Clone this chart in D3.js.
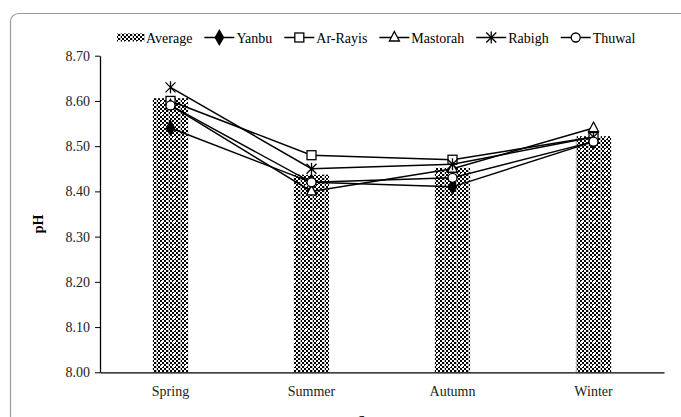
<!DOCTYPE html>
<html>
<head>
<meta charset="utf-8">
<script src="https://cdn.jsdelivr.net/npm/d3@7"></script>
<style>
  html, body { margin: 0; padding: 0; background: #fff; }
  svg { display: block; font-family: "Liberation Serif", "Times New Roman", serif; }
</style>
</head>
<body>
<svg id="chart" width="681" height="417"></svg>
<script>
// Seasonal pH at the sampling sites
const seasons = ["Spring", "Summer", "Autumn", "Winter"];
const averagePH = [8.606, 8.437, 8.452, 8.522];
const yanbu    = [8.54, 8.42, 8.41, 8.51];
const arRayis  = [8.60, 8.48, 8.47, 8.52];
const mastorah = [8.59, 8.40, 8.45, 8.54];
const rabigh   = [8.63, 8.45, 8.46, 8.52];
const thuwal   = [8.59, 8.42, 8.43, 8.51];
const yTicks = [8.00, 8.10, 8.20, 8.30, 8.40, 8.50, 8.60, 8.70];

const series = [
  { name: "Yanbu",    values: yanbu,    marker: "diamond" },
  { name: "Ar-Rayis", values: arRayis,  marker: "square" },
  { name: "Mastorah", values: mastorah, marker: "triangle" },
  { name: "Rabigh",   values: rabigh,   marker: "asterisk" },
  { name: "Thuwal",   values: thuwal,   marker: "circle" }
];

const svg = d3.select("#chart");
const plot = { left: 100, right: 664, top: 55.7, bottom: 372.3 };

// Checkered fill used for the average bars
const defs = svg.append("defs");
const pat = defs.append("pattern")
  .attr("id", "checker").attr("patternUnits", "userSpaceOnUse")
  .attr("width", 12).attr("height", 12);
pat.append("rect").attr("width", 12).attr("height", 12).attr("fill", "#fff");
for (let i = 0; i < 6; i++) {
  for (let j = 0; j < 6; j++) {
    if ((i + j) % 2 === 0) {
      pat.append("rect").attr("x", i * 2).attr("y", j * 2)
        .attr("width", 2).attr("height", 2).attr("fill", "#000");
    }
  }
}
pat.append("rect").attr("x", 5).attr("y", 5).attr("width", 2).attr("height", 2).attr("fill", "#fff");
pat.append("rect").attr("x", 0).attr("y", 0).attr("width", 1).attr("height", 12).attr("fill", "#bbb");

// Outer frame
svg.append("rect")
  .attr("x", 10.5).attr("y", 13.5)
  .attr("width", 700).attr("height", 430)
  .attr("rx", 8).attr("ry", 8)
  .attr("fill", "none").attr("stroke", "#9a9a9a").attr("stroke-width", 1.2);

const x = d3.scaleBand().domain(seasons).range([plot.left, plot.right]).padding(0);
const y = d3.scaleLinear().domain([8.0, 8.7]).range([plot.bottom, plot.top]);
const cx = s => x(s) + x.bandwidth() / 2;
const barW = x.bandwidth() * 0.25;

// Average bars
svg.append("g").selectAll("rect")
  .data(seasons.map((s, i) => ({ s, v: averagePH[i] })))
  .join("rect")
  .attr("x", d => cx(d.s) - barW / 2)
  .attr("y", d => y(d.v))
  .attr("width", barW)
  .attr("height", d => y(8.0) - y(d.v))
  .attr("fill", "url(#checker)");

// Axes
const yAxis = svg.append("g")
  .attr("transform", `translate(${plot.left},0)`)
  .call(d3.axisLeft(y).tickValues(yTicks).tickFormat(d3.format(".2f")).tickSize(5).tickSizeOuter(0));
yAxis.selectAll("text").attr("font-size", 14).attr("fill", "#222")
  .attr("font-family", "Liberation Serif").attr("dx", -2);
yAxis.select(".domain").attr("stroke", "#000").attr("stroke-width", 1.3);
yAxis.selectAll(".tick line").attr("stroke", "#000");

const xAxis = svg.append("g")
  .attr("transform", `translate(0,${plot.bottom})`)
  .call(d3.axisBottom(x).tickSize(0).tickPadding(14));
xAxis.selectAll("text").attr("font-size", 14).attr("fill", "#222")
  .attr("font-family", "Liberation Serif");
xAxis.select(".domain").attr("stroke", "#000").attr("stroke-width", 1.3);

// Axis titles
svg.append("text")
  .attr("transform", `translate(43,${(plot.top + plot.bottom) / 2 + 10}) rotate(-90)`)
  .attr("text-anchor", "middle").attr("font-size", 14).attr("font-weight", "bold")
  .text("pH");
svg.append("text")
  .attr("x", (plot.left + plot.right) / 2 - 4).attr("y", 426)
  .attr("text-anchor", "middle").attr("font-size", 14).attr("font-weight", "bold")
  .text("Season");

// Marker drawing
function drawMarker(g, type, px, py) {
  const st = { stroke: "#000", "stroke-width": 1.3 };
  let el;
  if (type === "diamond") {
    el = g.append("path").attr("d", d3.symbol(d3.symbolDiamond, 60)())
      .attr("transform", `translate(${px},${py})`).attr("fill", "#000");
  } else if (type === "square") {
    el = g.append("rect").attr("x", px - 4.5).attr("y", py - 4.5)
      .attr("width", 9).attr("height", 9).attr("fill", "#fff");
  } else if (type === "triangle") {
    el = g.append("path")
      .attr("d", `M${px},${py - 6}L${px + 5},${py + 3.5}L${px - 5},${py + 3.5}Z`)
      .attr("fill", "#fff");
  } else if (type === "circle") {
    el = g.append("circle").attr("cx", px).attr("cy", py).attr("r", 4.5).attr("fill", "#fff");
  } else if (type === "asterisk") {
    el = g.append("path")
      .attr("d", `M${px - 5},${py - 5}L${px + 5},${py + 5}M${px - 5},${py + 5}L${px + 5},${py - 5}M${px},${py - 6}L${px},${py + 6}`)
      .attr("fill", "none");
  }
  Object.entries(st).forEach(([k, v]) => el.attr(k, v));
}

// Site lines
const line = d3.line().x(d => cx(d.s)).y(d => y(d.v));
series.forEach(sr => {
  const g = svg.append("g");
  const pts = seasons.map((s, i) => ({ s, v: sr.values[i] }));
  g.append("path").attr("d", line(pts))
    .attr("fill", "none").attr("stroke", "#000").attr("stroke-width", 1.5);
  pts.forEach(p => drawMarker(g, sr.marker, cx(p.s), y(p.v)));
});

// Legend
const legend = svg.append("g");
const ly = 37.5;
let lx = 117;
legend.append("rect").attr("x", lx).attr("y", ly - 4).attr("width", 28).attr("height", 8)
  .attr("fill", "url(#checker)");
lx += 29;
let t = legend.append("text").attr("x", lx).attr("y", ly + 5).attr("font-size", 14).text("Average");
lx += t.node().getComputedTextLength() + 12;
series.forEach(sr => {
  legend.append("line").attr("x1", lx).attr("x2", lx + 30).attr("y1", ly).attr("y2", ly)
    .attr("stroke", "#000").attr("stroke-width", 1.5);
  drawMarker(legend, sr.marker, lx + 15, ly);
  lx += 32;
  const tt = legend.append("text").attr("x", lx).attr("y", ly + 5).attr("font-size", 14).text(sr.name);
  lx += tt.node().getComputedTextLength() + 12;
});
</script>
</body>
</html>
